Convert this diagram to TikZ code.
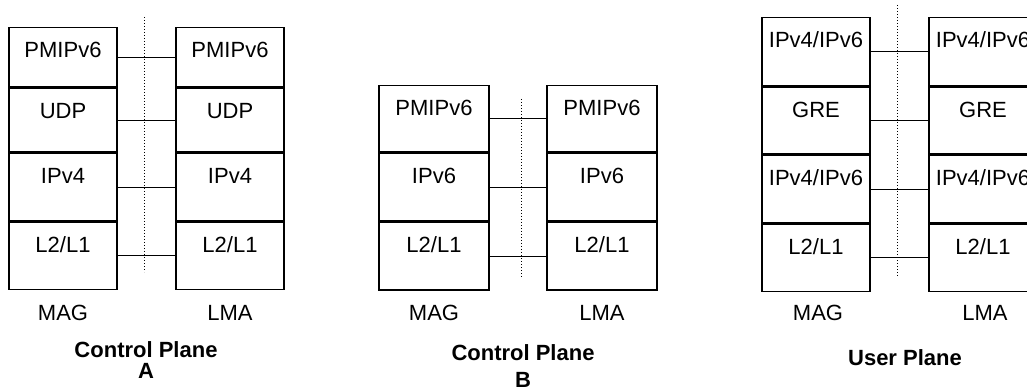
\documentclass[tikz,border=0pt]{standalone}
\usepackage{fontspec}
\setmainfont{Liberation Sans}
\usepackage{xcolor}
\usepackage{tikz}
\usetikzlibrary{positioning}
\newcommand{\stackfont}{\fontsize{22}{24}\selectfont}
\tikzset{
  layer/.style={
    rectangle,
    draw=black,
    line width=1.5pt,
    minimum width=108pt,
    inner xsep=2pt,
    inner ysep=0pt,
    text height=30pt,
    font=\stackfont
  },
  peer/.style={
    line width=1.4pt,
    draw=black
  },
  divider/.style={
    dotted,
    line width=1pt,
    draw=black
  },
  entity/.style={
    font=\stackfont
  },
  plane/.style={
    font=\stackfont\bfseries,
    align=center
  }
}
\begin{document}
\begin{tikzpicture}[x=1pt,y=-1pt]
  \useasboundingbox (0,0) rectangle (1027,387);
  % control plane A
  \node[layer,anchor=north,text depth=29pt] (aMag1) at (63,27) {PMIPv6};
  \node[layer,text depth=34pt,below=0pt of aMag1] (aMag2) {UDP};
  \node[layer,text depth=37pt,below=0pt of aMag2] (aMag3) {IPv4};
  \node[layer,text depth=37pt,below=0pt of aMag3] (aMag4) {L2/L1};
  \node[layer,anchor=north,text depth=29pt] (aLma1) at (230,27) {PMIPv6};
  \node[layer,text depth=34pt,below=0pt of aLma1] (aLma2) {UDP};
  \node[layer,text depth=37pt,below=0pt of aLma2] (aLma3) {IPv4};
  \node[layer,text depth=37pt,below=0pt of aLma3] (aLma4) {L2/L1};
  \draw[peer] (aMag1.east) -- (aLma1.west);
  \draw[peer] (aMag2.east) -- (aLma2.west);
  \draw[peer] (aMag3.east) -- (aLma3.west);
  \draw[peer] (aMag4.east) -- (aLma4.west);
  \coordinate (aTop) at (144,17);
  \coordinate (aBot) at (144,272);
  \draw[divider] (aTop) -- (aBot);
  \node[entity] (aMagName) at (63,313) {MAG};
  \node[entity] (aLmaName) at (230,313) {LMA};
  \node[plane] (aPlane) at (146,360) {Control Plane\\[-3pt]A};
  % control plane B
  \node[layer,anchor=north,text depth=36pt,minimum width=110pt] (bMag1) at (434,85) {PMIPv6};
  \node[layer,text depth=38pt,minimum width=110pt,below=0pt of bMag1] (bMag2) {IPv6};
  \node[layer,text depth=37pt,minimum width=110pt,below=0pt of bMag2] (bMag3) {L2/L1};
  \node[layer,anchor=north,text depth=36pt,minimum width=110pt] (bLma1) at (602,85) {PMIPv6};
  \node[layer,text depth=38pt,minimum width=110pt,below=0pt of bLma1] (bLma2) {IPv6};
  \node[layer,text depth=37pt,minimum width=110pt,below=0pt of bLma2] (bLma3) {L2/L1};
  \draw[peer] (bMag1.east) -- (bLma1.west);
  \draw[peer] (bMag2.east) -- (bLma2.west);
  \draw[peer] (bMag3.east) -- (bLma3.west);
  \coordinate (bTop) at (521,99);
  \coordinate (bBot) at (521,277);
  \draw[divider] (bTop) -- (bBot);
  \node[entity] (bMagName) at (434,313) {MAG};
  \node[entity] (bLmaName) at (602,313) {LMA};
  \node[plane] (bPlane) at (523,366) {Control Plane\\[3pt]B};
  % user plane
  \node[layer,anchor=north,text depth=38pt] (cMag1) at (816,17) {IPv4/IPv6};
  \node[layer,text depth=37pt,below=0pt of cMag1] (cMag2) {GRE};
  \node[layer,text depth=37pt,below=0pt of cMag2] (cMag3) {IPv4/IPv6};
  \node[layer,text depth=37pt,below=0pt of cMag3] (cMag4) {L2/L1};
  \node[layer,anchor=north,text depth=38pt] (cLma1) at (983,17) {IPv4/IPv6};
  \node[layer,text depth=37pt,below=0pt of cLma1] (cLma2) {GRE};
  \node[layer,text depth=37pt,below=0pt of cLma2] (cLma3) {IPv4/IPv6};
  \node[layer,text depth=37pt,below=0pt of cLma3] (cLma4) {L2/L1};
  \draw[peer] (cMag1.east) -- (cLma1.west);
  \draw[peer] (cMag2.east) -- (cLma2.west);
  \draw[peer] (cMag3.east) -- (cLma3.west);
  \draw[peer] (cMag4.east) -- (cLma4.west);
  \coordinate (cTop) at (897,5);
  \coordinate (cBot) at (897,277);
  \draw[divider] (cTop) -- (cBot);
  \node[entity] (cMagName) at (818,313) {MAG};
  \node[entity] (cLmaName) at (985,313) {LMA};
  \node[plane] (cPlane) at (905,358) {User Plane};
\end{tikzpicture}
\end{document}
